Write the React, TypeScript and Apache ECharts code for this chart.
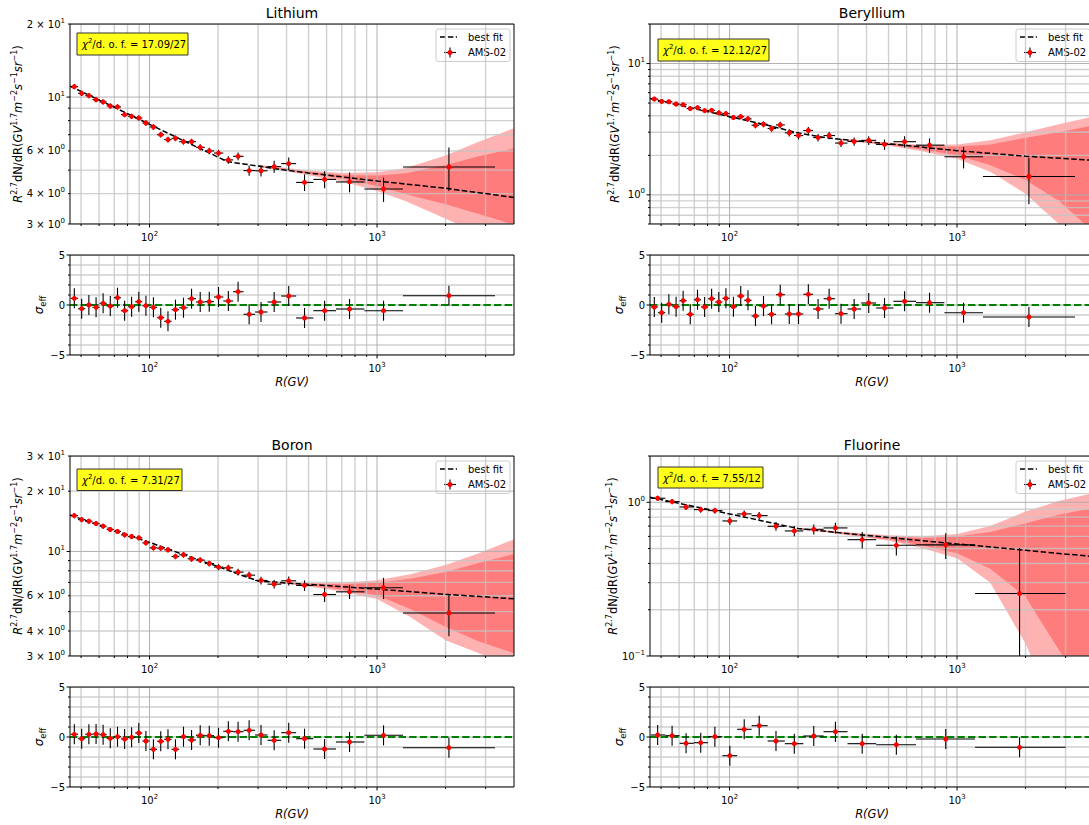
import React, { useEffect, useRef } from 'react';
import * as echarts from 'echarts';

const FONT = 'DejaVu Sans';
const X_MIN = 44.7;
const X_MAX = 4000;

const xMajorTicks = [100, 1000];
const xMinorTicks = [50, 60, 70, 80, 90, 200, 300, 400, 500, 600, 700, 800, 900, 2000, 3000];
const residMajorTicks = [-5, 0, 5];
const residMinorTicks = [-4, -3, -2, -1, 1, 2, 3, 4];

// rigidity bins (Li, Be, B)
const binR = [46.7, 50.3, 54.1, 58.2, 62.5, 67.2, 72.3, 77.7, 83.4, 89.7, 96.4, 104, 112, 120.5, 130, 141, 153, 167, 183, 201, 222, 245, 274, 309, 353, 409, 480, 588, 757, 1068, 2070];
const binEdges = [45.1, 48.5, 52.2, 56.1, 60.3, 64.8, 69.7, 74.9, 80.5, 86.5, 93.0, 100, 108, 116, 125, 135, 147, 160, 175, 192, 211, 233, 259, 291, 330, 379, 441, 525, 660, 880, 1300, 3300];
// rigidity bins (F)
const fR = [48.3, 55.9, 64.4, 74.7, 86.2, 100.3, 116, 135, 160, 192.6, 234.5, 292, 383, 541, 892, 1883];
const fEdges = [45.1, 52.2, 60.3, 69.7, 80.5, 93, 108, 125, 147, 175, 211, 259, 330, 441, 660, 1200, 3000];

// Lithium
const liFlux = [11.04, 10.36, 10.14, 9.76, 9.55, 9.19, 9.11, 8.46, 8.33, 8.2, 7.82, 7.53, 7.0, 6.68, 6.76, 6.55, 6.55, 6.21, 6.0, 5.88, 5.51, 5.7, 4.98, 4.97, 5.17, 5.32, 4.45, 4.58, 4.47, 4.18, 5.15];
const liErr = [0.26, 0.25, 0.24, 0.23, 0.23, 0.22, 0.22, 0.21, 0.21, 0.2, 0.2, 0.19, 0.19, 0.18, 0.18, 0.18, 0.18, 0.18, 0.18, 0.18, 0.2, 0.21, 0.24, 0.26, 0.29, 0.32, 0.35, 0.37, 0.42, 0.48, 1.05];
const liResid = [0.67, -0.37, 0.0, -0.23, 0.17, -0.1, 0.73, -0.57, -0.17, 0.33, -0.07, -0.23, -1.27, -1.63, -0.47, -0.27, 0.63, 0.3, 0.33, 0.8, 0.4, 1.33, -0.93, -0.7, 0.3, 0.9, -1.3, -0.57, -0.4, -0.57, 0.93];
const liFitR = [44.7, 60, 80, 100, 130, 160, 190, 220, 260, 300, 372, 500, 1000, 2000, 4000];
const liFitV = [11.1, 9.72, 8.55, 7.72, 6.86, 6.25, 5.79, 5.42, 5.3, 5.2, 5.04, 4.87, 4.51, 4.21, 3.86];
const liBandR = [300, 400, 500, 700, 1000, 1340, 2000, 2800, 4000];
const liOuterHi = [5.25, 5.1, 4.98, 4.87, 4.9, 5.1, 5.75, 6.55, 7.44];
const liInnerHi = [5.23, 5.07, 4.93, 4.78, 4.75, 4.85, 5.25, 5.7, 6.15];
const liInnerLo = [5.17, 4.99, 4.83, 4.62, 4.3, 3.98, 3.62, 3.3, 2.98];
const liOuterLo = [5.15, 4.95, 4.76, 4.5, 4.1, 3.72, 3.15, 2.75, 2.3];

// Beryllium
const beFlux = [5.37, 5.15, 5.12, 4.92, 4.86, 4.54, 4.61, 4.38, 4.4, 4.21, 4.16, 3.88, 3.94, 3.79, 3.39, 3.45, 3.2, 3.41, 2.97, 2.83, 3.09, 2.73, 2.83, 2.48, 2.55, 2.6, 2.42, 2.54, 2.39, 1.95, 1.38];
const beErr = [0.2, 0.2, 0.19, 0.19, 0.18, 0.18, 0.18, 0.17, 0.17, 0.17, 0.17, 0.17, 0.17, 0.18, 0.18, 0.18, 0.18, 0.19, 0.19, 0.19, 0.19, 0.18, 0.18, 0.17, 0.18, 0.2, 0.22, 0.25, 0.3, 0.36, 0.53];
const beResid = [-0.2, -0.77, 0.07, -0.17, 0.43, -0.93, 0.53, -0.2, 0.63, 0.3, 0.67, -0.17, 0.9, 0.47, -1.1, -0.1, -0.93, 1.03, -0.9, -0.9, 1.07, -0.4, 0.63, -0.87, -0.4, 0.2, -0.3, 0.37, 0.23, -0.77, -1.2];
const beFitR = [44.7, 100, 150, 200, 250, 300, 500, 1000, 2000, 4000];
const beFitV = [5.43, 3.94, 3.36, 2.96, 2.77, 2.66, 2.45, 2.17, 1.97, 1.83];
const beBandR = [300, 400, 500, 700, 1000, 1400, 2000, 2800, 4000];
const beOuterHi = [2.69, 2.57, 2.5, 2.4, 2.42, 2.6, 3.0, 3.45, 3.95];
const beInnerHi = [2.68, 2.55, 2.48, 2.36, 2.33, 2.42, 2.72, 3.0, 3.38];
const beInnerLo = [2.64, 2.5, 2.41, 2.22, 2.0, 1.68, 1.3, 0.9, 0.52];
const beOuterLo = [2.63, 2.48, 2.37, 2.15, 1.88, 1.5, 1.02, 0.6, 0.35];

// Boron
const bFlux = [15.1, 14.43, 14.16, 13.78, 13.37, 12.87, 12.58, 12.1, 11.87, 11.69, 11.04, 10.42, 10.38, 10.19, 9.44, 9.62, 9.19, 9.05, 8.7, 8.35, 8.28, 7.88, 7.61, 7.16, 6.86, 7.13, 6.76, 6.09, 6.28, 6.58, 4.92];
const bErr = [0.45, 0.42, 0.4, 0.39, 0.38, 0.37, 0.36, 0.35, 0.34, 0.33, 0.32, 0.31, 0.3, 0.3, 0.3, 0.3, 0.3, 0.29, 0.29, 0.29, 0.29, 0.3, 0.31, 0.32, 0.33, 0.37, 0.41, 0.5, 0.5, 0.8, 1.15];
const bResid = [0.27, -0.17, 0.27, 0.3, 0.23, -0.13, 0.03, -0.2, -0.03, 0.4, -0.4, -1.23, -0.43, -0.23, -1.23, 0.03, -0.3, 0.17, 0.13, -0.07, 0.57, 0.53, 0.67, 0.2, -0.33, 0.43, -0.17, -1.2, -0.5, 0.17, -1.07];
const bFitR = [44.7, 100, 150, 200, 250, 300, 400, 600, 1000, 2000, 4000];
const bFitV = [15.2, 11.1, 9.4, 8.4, 7.65, 7.12, 6.95, 6.75, 6.48, 6.1, 5.8];
const bBandR = [300, 400, 500, 700, 1000, 1400, 2000, 2800, 4000];
const bOuterHi = [7.16, 7.02, 6.95, 6.95, 7.18, 7.7, 8.55, 9.8, 11.5];
const bInnerHi = [7.14, 6.99, 6.9, 6.85, 6.97, 7.3, 7.9, 8.75, 9.7];
const bInnerLo = [7.1, 6.9, 6.75, 6.45, 6.04, 5.15, 4.2, 3.55, 3.1];
const bOuterLo = [7.08, 6.87, 6.68, 6.3, 5.78, 4.7, 3.6, 3.1, 2.6];

// Fluorine
const fFlux = [1.062, 1.01, 0.932, 0.896, 0.883, 0.756, 0.84, 0.819, 0.698, 0.651, 0.667, 0.681, 0.571, 0.525, 0.528, 0.255];
const fErr = [0.04, 0.04, 0.04, 0.04, 0.04, 0.045, 0.045, 0.045, 0.045, 0.05, 0.05, 0.055, 0.07, 0.075, 0.1, 0.25];
const fResid = [0.2, 0.13, -0.63, -0.57, 0.03, -1.87, 0.77, 1.13, -0.4, -0.67, 0.1, 0.53, -0.67, -0.77, -0.2, -1.03];
const fFitR = [44.7, 100, 200, 300, 500, 1000, 2000, 4000];
const fFitV = [1.078, 0.84, 0.675, 0.635, 0.59, 0.536, 0.487, 0.443];
const fBandR = [200, 300, 400, 500, 700, 1000, 1400, 2000, 2800, 4000];
const fOuterHi = [0.68, 0.645, 0.625, 0.61, 0.6, 0.622, 0.7, 0.87, 1.02, 1.15];
const fInnerHi = [0.678, 0.641, 0.618, 0.602, 0.585, 0.598, 0.64, 0.73, 0.83, 0.92];
const fInnerLo = [0.672, 0.629, 0.595, 0.572, 0.525, 0.466, 0.37, 0.243, 0.11, 0.05];
const fOuterLo = [0.67, 0.625, 0.588, 0.563, 0.505, 0.432, 0.3, 0.12, 0.04, 0.02];

const panels = [
  { title: 'Lithium', R: binR, edges: binEdges, flux: liFlux, err: liErr, resid: liResid, fitR: liFitR, fitV: liFitV, bandR: liBandR, outerHi: liOuterHi, innerHi: liInnerHi, innerLo: liInnerLo, outerLo: liOuterLo, yMin: 3, yMax: 20, yLabels: [3, 4, 6, 10, 20], yMajor: [10], yMinor: [3, 4, 5, 6, 7, 8, 9, 20], chi: '17.09/27' },
  { title: 'Beryllium', R: binR, edges: binEdges, flux: beFlux, err: beErr, resid: beResid, fitR: beFitR, fitV: beFitV, bandR: beBandR, outerHi: beOuterHi, innerHi: beInnerHi, innerLo: beInnerLo, outerLo: beOuterLo, yMin: 0.6, yMax: 20, yLabels: [1, 10], yMajor: [1, 10], yMinor: [0.6, 0.7, 0.8, 0.9, 2, 3, 4, 5, 6, 7, 8, 9, 20], chi: '12.12/27' },
  { title: 'Boron', R: binR, edges: binEdges, flux: bFlux, err: bErr, resid: bResid, fitR: bFitR, fitV: bFitV, bandR: bBandR, outerHi: bOuterHi, innerHi: bInnerHi, innerLo: bInnerLo, outerLo: bOuterLo, yMin: 3, yMax: 30, yLabels: [3, 4, 6, 10, 20, 30], yMajor: [10], yMinor: [3, 4, 5, 6, 7, 8, 9, 20, 30], chi: '7.31/27' },
  { title: 'Fluorine', R: fR, edges: fEdges, flux: fFlux, err: fErr, resid: fResid, fitR: fFitR, fitV: fFitV, bandR: fBandR, outerHi: fOuterHi, innerHi: fInnerHi, innerLo: fInnerLo, outerLo: fOuterLo, yMin: 0.1, yMax: 2, yLabels: [0.1, 1], yMajor: [0.1, 1], yMinor: [0.2, 0.3, 0.4, 0.5, 0.6, 0.7, 0.8, 0.9, 2], chi: '7.55/12' },
];

const GW = 444;
const MAIN_H = 200;
const RES_H = 100;
const layouts = [
  { gx: 70, mainTop: 24, resTop: 255, chi: [77, 33, 111, 22], ylabX: 18, rlabX: 39 },
  { gx: 650, mainTop: 24, resTop: 255, chi: [658, 39, 111, 22], ylabX: 615, rlabX: 619 },
  { gx: 70, mainTop: 456, resTop: 687, chi: [77, 469, 105, 21.5], ylabX: 18, rlabX: 39 },
  { gx: 650, mainTop: 456, resTop: 687, chi: [658, 467, 105, 21], ylabX: 613, rlabX: 619 },
];

const supRich = {
  b: { fontSize: 10, fontFamily: FONT, color: '#000', fill: '#000' },
  s: { fontSize: 7, fontFamily: FONT, color: '#000', fill: '#000', padding: [0, 0, 7, 0] },
};

function powLabel(v: number) {
  const e = Math.floor(Math.log10(v) + 1e-6);
  const m = Math.round(v / Math.pow(10, e));
  const es = e < 0 ? '\u2212' + -e : String(e);
  return m === 1 ? `{b|10}{s|${es}}` : `{b|${m} \u00d7 10}{s|${es}}`;
}

function gridLinesSeries(axisIdx: number, xMin: number[], xMaj: number[], yMin: number[], yMaj: number[], yRef: number) {
  return {
    type: 'custom', xAxisIndex: axisIdx, yAxisIndex: axisIdx, z: 2, silent: true, clip: true,
    data: [[X_MIN, yRef]],
    renderItem: (params: any, api: any) => {
      const cs = params.coordSys;
      const ch: any[] = [];
      const minorStyle = { stroke: '#c4c4c4', lineWidth: 1.4, opacity: 0.8 };
      const majorStyle = { stroke: '#b0b0b0', lineWidth: 1 };
      xMin.forEach((v) => {
        const px = api.coord([v, yRef])[0];
        ch.push({ type: 'line', shape: { x1: px, y1: cs.y, x2: px, y2: cs.y + cs.height }, style: minorStyle });
      });
      yMin.forEach((v) => {
        const py = api.coord([X_MIN, v])[1];
        ch.push({ type: 'line', shape: { x1: cs.x, y1: py, x2: cs.x + cs.width, y2: py }, style: minorStyle });
      });
      xMaj.forEach((v) => {
        const px = api.coord([v, yRef])[0];
        ch.push({ type: 'line', shape: { x1: px, y1: cs.y, x2: px, y2: cs.y + cs.height }, style: majorStyle });
      });
      yMaj.forEach((v) => {
        const py = api.coord([X_MIN, v])[1];
        ch.push({ type: 'line', shape: { x1: cs.x, y1: py, x2: cs.x + cs.width, y2: py }, style: majorStyle });
      });
      return { type: 'group', children: ch };
    },
  };
}

function frameSeries(axisIdx: number, yMin: number[], yMaj: number[], yRef: number) {
  return {
    type: 'custom', xAxisIndex: axisIdx, yAxisIndex: axisIdx, z: 6, silent: true,
    data: [[X_MIN, yRef]],
    renderItem: (params: any, api: any) => {
      const cs = params.coordSys;
      const ch: any[] = [];
      const st = { stroke: '#000', lineWidth: 1 };
      const bottom = cs.y + cs.height;
      xMinorTicks.forEach((v) => {
        const px = api.coord([v, yRef])[0];
        ch.push({ type: 'line', shape: { x1: px, y1: bottom, x2: px, y2: bottom + 2 }, style: st });
      });
      xMajorTicks.forEach((v) => {
        const px = api.coord([v, yRef])[0];
        ch.push({ type: 'line', shape: { x1: px, y1: bottom, x2: px, y2: bottom + 3.5 }, style: st });
      });
      yMin.forEach((v) => {
        const py = api.coord([X_MIN, v])[1];
        ch.push({ type: 'line', shape: { x1: cs.x - 2, y1: py, x2: cs.x, y2: py }, style: st });
      });
      yMaj.forEach((v) => {
        const py = api.coord([X_MIN, v])[1];
        ch.push({ type: 'line', shape: { x1: cs.x - 3.5, y1: py, x2: cs.x, y2: py }, style: st });
      });
      ch.push({ type: 'rect', shape: { x: cs.x, y: cs.y, width: cs.width, height: cs.height }, style: { stroke: '#000', lineWidth: 1, fill: 'none' } });
      return { type: 'group', children: ch };
    },
  };
}

function bandSeries(axisIdx: number, R: number[], lo: number[], hi: number[]) {
  return {
    type: 'custom', xAxisIndex: axisIdx, yAxisIndex: axisIdx, z: 1, silent: true, clip: true,
    data: [[R[0], lo[0]]],
    renderItem: (params: any, api: any) => {
      const top = R.map((r, i) => api.coord([r, hi[i]]));
      const bot = R.map((r, i) => api.coord([r, lo[i]])).reverse();
      return { type: 'polygon', shape: { points: top.concat(bot) }, style: { fill: 'rgba(255,0,0,0.3)' } };
    },
  };
}

function pointsSeries(axisIdx: number, data: number[][]) {
  return {
    type: 'custom', xAxisIndex: axisIdx, yAxisIndex: axisIdx, z: 4, silent: true, clip: true,
    encode: { x: 0, y: 1 },
    data,
    renderItem: (params: any, api: any) => {
      const x = api.value(0), y = api.value(1);
      const c = api.coord([x, y]);
      const l = api.coord([api.value(2), y]);
      const h = api.coord([api.value(3), y]);
      const b = api.coord([x, api.value(4)]);
      const t = api.coord([x, api.value(5)]);
      return {
        type: 'group',
        children: [
          { type: 'line', shape: { x1: l[0], y1: c[1], x2: h[0], y2: c[1] }, style: { stroke: '#000', lineWidth: 1.1 } },
          { type: 'line', shape: { x1: c[0], y1: b[1], x2: c[0], y2: t[1] }, style: { stroke: '#000', lineWidth: 1.1 } },
          { type: 'circle', shape: { cx: c[0], cy: c[1], r: 2.5 }, style: { fill: '#ff0000' } },
        ],
      };
    },
  };
}

function buildOption() {
  const grid: any[] = [];
  const xAxis: any[] = [];
  const yAxis: any[] = [];
  const series: any[] = [];
  const elements: any[] = [];

  const xAxisCfg = (gi: number) => ({
    type: 'log', logBase: 10, gridIndex: gi, min: X_MIN, max: X_MAX,
    axisLine: { show: false }, axisTick: { show: false }, splitLine: { show: false },
    axisLabel: { customValues: xMajorTicks, formatter: (v: number) => powLabel(v), rich: supRich, margin: 6 },
  });

  panels.forEach((p, k) => {
    const L = layouts[k];
    const gi = k * 2;
    const ri = k * 2 + 1;
    grid.push({ left: L.gx, top: L.mainTop, width: GW, height: MAIN_H, outerBoundsMode: 'none', containLabel: false });
    grid.push({ left: L.gx, top: L.resTop, width: GW, height: RES_H, outerBoundsMode: 'none', containLabel: false });
    xAxis.push(xAxisCfg(gi));
    xAxis.push(xAxisCfg(ri));
    yAxis.push({
      type: 'log', logBase: 10, gridIndex: gi, min: p.yMin, max: p.yMax,
      axisLine: { show: false }, axisTick: { show: false }, splitLine: { show: false },
      axisLabel: { customValues: p.yLabels, formatter: (v: number) => powLabel(v), rich: supRich, margin: 5 },
    });
    yAxis.push({
      type: 'value', gridIndex: ri, min: -5, max: 5, interval: 5,
      axisLine: { show: false }, axisTick: { show: false }, splitLine: { show: false },
      axisLabel: { formatter: (v: number) => (v < 0 ? '\u2212' + -v : String(v)), fontSize: 10, fontFamily: FONT, color: '#000', margin: 5 },
    });

    // main panel
    series.push(bandSeries(gi, p.bandR, p.outerLo, p.outerHi));
    series.push(bandSeries(gi, p.bandR, p.innerLo, p.innerHi));
    series.push(gridLinesSeries(gi, xMinorTicks, xMajorTicks, p.yMinor, p.yMajor, p.yMin));
    series.push({
      type: 'line', xAxisIndex: gi, yAxisIndex: gi, z: 3, silent: true, showSymbol: false, clip: true,
      data: p.fitR.map((r, i) => [r, p.fitV[i]]),
      lineStyle: { color: '#000', width: 1.5, type: [5.5, 2.4] },
    });
    series.push(pointsSeries(gi, p.R.map((r, i) => [r, p.flux[i], p.edges[i], p.edges[i + 1], Math.max(p.flux[i] - p.err[i], 1e-4), p.flux[i] + p.err[i]])));
    series.push(frameSeries(gi, p.yMinor, p.yMajor, p.yMin));

    // residual panel
    series.push(gridLinesSeries(ri, xMinorTicks, xMajorTicks, residMinorTicks, residMajorTicks, 0));
    series.push({
      type: 'line', xAxisIndex: ri, yAxisIndex: ri, z: 3, silent: true, showSymbol: false, clip: true,
      data: [[X_MIN, 0], [X_MAX, 0]],
      lineStyle: { color: '#008000', width: 2, type: [7.4, 3.2] },
    });
    series.push(pointsSeries(ri, p.R.map((r, i) => [r, p.resid[i], p.edges[i], p.edges[i + 1], p.resid[i] - 1, p.resid[i] + 1])));
    series.push(frameSeries(ri, residMinorTicks, residMajorTicks, 0));

    // texts & decorations
    const cx = L.gx + GW / 2;
    elements.push({ type: 'text', x: cx, y: L.mainTop - 11, z: 50, style: { text: p.title, fontSize: 14, fontFamily: FONT, fill: '#000', align: 'center', verticalAlign: 'middle' } });
    elements.push({
      type: 'text', x: L.ylabX, y: L.mainTop + MAIN_H / 2, rotation: Math.PI / 2, z: 50,
      style: {
        text: '{i|R}{s|2.7}{n|dN/dR(}{i|GV}{s|1.7}{i|m}{s|\u22122}{i|s}{s|\u22121}{i|sr}{s|\u22121}{n|)}',
        align: 'center', verticalAlign: 'middle',
        rich: {
          i: { fontSize: 11.5, fontFamily: FONT, fontStyle: 'italic', fill: '#000' },
          n: { fontSize: 11.5, fontFamily: FONT, fill: '#000' },
          s: { fontSize: 8, fontFamily: FONT, fill: '#000', padding: [0, 0, 8, 0] },
        },
      },
    });
    elements.push({
      type: 'text', x: L.rlabX, y: L.resTop + RES_H / 2, rotation: Math.PI / 2, z: 50,
      style: {
        text: '{i|\u03c3}{b|eff}', align: 'center', verticalAlign: 'middle',
        rich: {
          i: { fontSize: 12, fontFamily: FONT, fontStyle: 'italic', fill: '#000' },
          b: { fontSize: 8.5, fontFamily: FONT, fill: '#000', padding: [7, 0, 0, 0] },
        },
      },
    });
    elements.push({ type: 'text', x: cx, y: L.resTop + RES_H + 27, z: 50, style: { text: 'R(GV)', fontSize: 11.5, fontStyle: 'italic', fontFamily: FONT, fill: '#000', align: 'center', verticalAlign: 'middle' } });

    const [bx, by, bw, bh] = L.chi;
    elements.push({ type: 'rect', z: 50, shape: { x: bx, y: by, width: bw, height: bh }, style: { fill: '#ffff1a', stroke: '#333', lineWidth: 1 } });
    elements.push({
      type: 'text', x: bx + 5, y: by + bh / 2 + 0.5, z: 51,
      style: {
        text: `{i|\u03c7}{s|2}{n|/d. o. f. = ${p.chi}}`, align: 'left', verticalAlign: 'middle',
        rich: {
          i: { fontSize: 10, fontFamily: FONT, fontStyle: 'italic', fill: '#000' },
          n: { fontSize: 10, fontFamily: FONT, fill: '#000' },
          s: { fontSize: 7, fontFamily: FONT, fill: '#000', padding: [0, 0, 7, 0] },
        },
      },
    });

    const lx = L.gx + GW - 78;
    const ly = L.mainTop + 5;
    elements.push({
      type: 'group', x: lx, y: ly, z: 50,
      children: [
        { type: 'rect', shape: { x: 0, y: 0, width: 74, height: 32.5, r: 2.5 }, style: { fill: 'rgba(255,255,255,0.8)', stroke: '#cccccc', lineWidth: 1 } },
        { type: 'line', shape: { x1: 4, y1: 8, x2: 21, y2: 8 }, style: { stroke: '#000', lineWidth: 1.5, lineDash: [5.5, 2.4] } },
        { type: 'text', x: 32, y: 8, style: { text: 'best fit', fontSize: 10, fontFamily: FONT, fill: '#000', align: 'left', verticalAlign: 'middle' } },
        { type: 'line', shape: { x1: 8, y1: 23.5, x2: 20, y2: 23.5 }, style: { stroke: '#000', lineWidth: 1.1 } },
        { type: 'line', shape: { x1: 14, y1: 18.5, x2: 14, y2: 28.5 }, style: { stroke: '#000', lineWidth: 1.1 } },
        { type: 'circle', shape: { cx: 14, cy: 23.5, r: 2.5 }, style: { fill: '#ff0000' } },
        { type: 'text', x: 32, y: 23.5, style: { text: 'AMS-02', fontSize: 10, fontFamily: FONT, fill: '#000', align: 'left', verticalAlign: 'middle' } },
      ],
    });
  });

  return {
    animation: false,
    backgroundColor: '#ffffff',
    textStyle: { fontFamily: FONT },
    grid, xAxis, yAxis, series,
    graphic: { elements },
  };
}

export default function App() {
  const ref = useRef<HTMLDivElement>(null);
  useEffect(() => {
    if (!ref.current) return;
    const chart = echarts.init(ref.current, undefined, { renderer: 'svg' });
    chart.setOption(buildOption() as any);
    return () => chart.dispose();
  }, []);
  return <div ref={ref} style={{ position: 'absolute', left: 0, top: 0, width: 1089, height: 825 }} />;
}
